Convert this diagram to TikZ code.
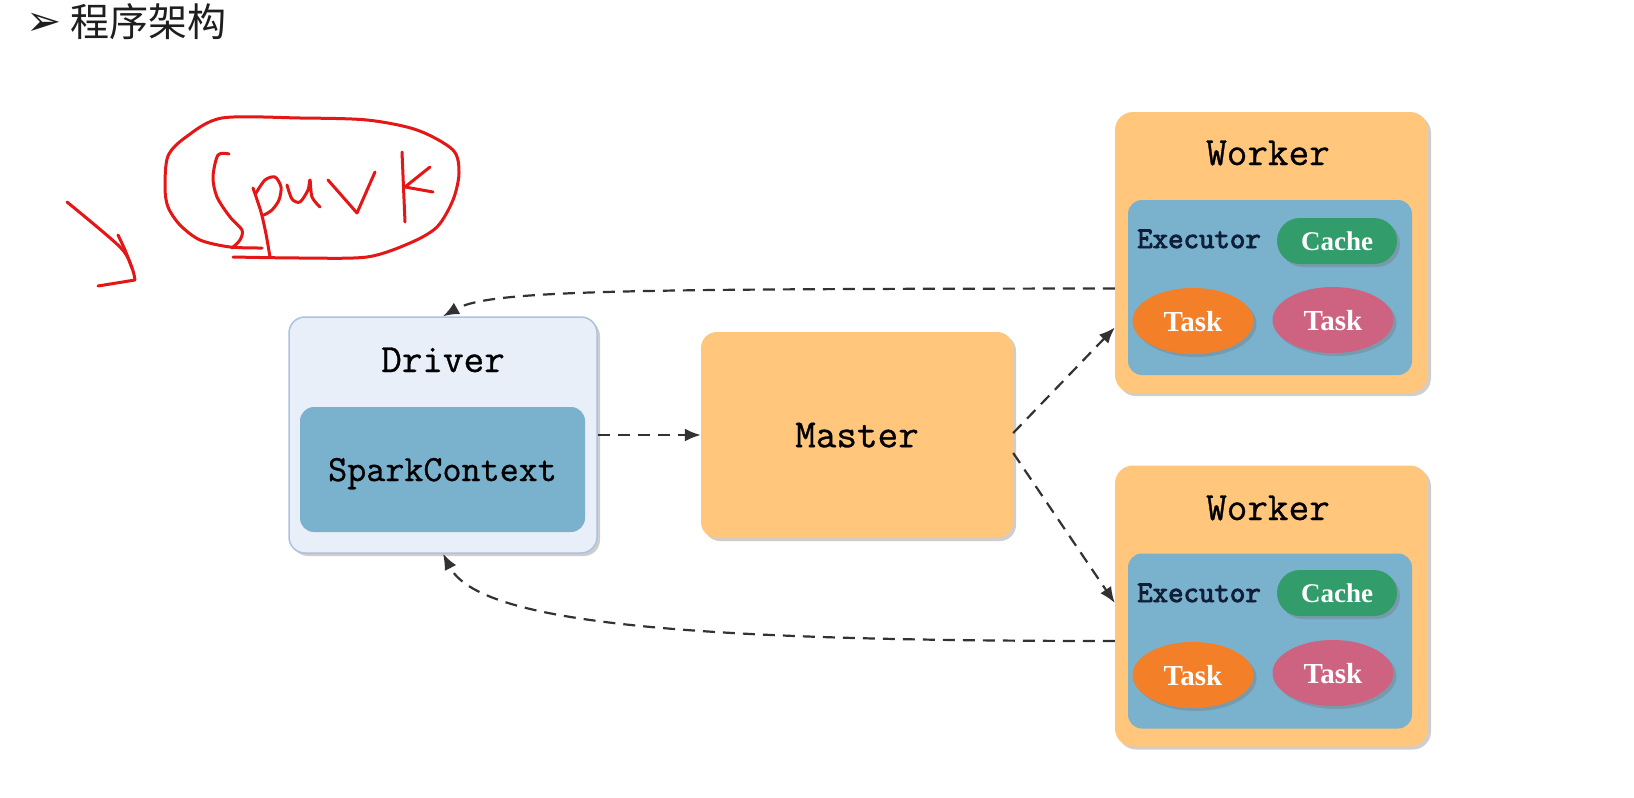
\documentclass[tikz,border=0pt]{standalone}
\usepackage{fontspec}
\usetikzlibrary{arrows.meta,shapes.geometric,shadows,calc}
\newfontfamily\cjkfont{Noto Sans CJK SC}
\newfontfamily\symfont{DejaVu Sans}
\newfontfamily\labelfont{Liberation Serif}
\newfontfamily\monofont{Latin Modern Mono}[FakeBold=0.8]
\newfontfamily\execfont{Latin Modern Mono}[FakeBold=3]
\definecolor{workerorange}{RGB}{255,198,124}
\definecolor{execblue}{RGB}{122,177,205}
\definecolor{driverfill}{RGB}{232,239,249}
\definecolor{driverline}{RGB}{172,194,222}
\definecolor{cachegreen}{RGB}{50,156,106}
\definecolor{taskorange}{RGB}{243,128,40}
\definecolor{taskpink}{RGB}{206,99,129}
\definecolor{penred}{RGB}{228,22,22}
\definecolor{linkgray}{RGB}{50,50,50}
\definecolor{titlegray}{RGB}{30,30,30}
\definecolor{execnavy}{RGB}{16,30,56}
\tikzset{
  boxshadow/.style={drop shadow={shadow xshift=3pt,shadow yshift=-3pt,opacity=0.35,fill=black!55}},
  workerbox/.style={rectangle,rounded corners=18pt,fill=workerorange,minimum width=313pt,minimum height=281pt,boxshadow},
  masterbox/.style={rectangle,rounded corners=16pt,fill=workerorange,minimum width=312pt,minimum height=206pt,boxshadow,font=\monofont\bfseries\fontsize{40}{40}\selectfont,text depth=0pt},
  driverbox/.style={rectangle,rounded corners=16pt,fill=driverfill,draw=driverline,line width=1.5pt,minimum width=308pt,minimum height=236pt,boxshadow},
  scbox/.style={rectangle,rounded corners=14pt,fill=execblue,minimum width=285pt,minimum height=125pt,font=\monofont\bfseries\fontsize{37}{37}\selectfont,text depth=0pt},
  execbox/.style={rectangle,rounded corners=14pt,fill=execblue,minimum width=284pt,minimum height=175pt},
  boxlabel/.style={inner sep=0pt,font=\monofont\bfseries\fontsize{40}{40}\selectfont},
  execlabel/.style={inner sep=0pt,text=execnavy,font=\execfont\bfseries\fontsize{30}{30}\selectfont},
  cachebox/.style={rectangle,rounded corners=23pt,fill=cachegreen,minimum width=120pt,minimum height=46pt,inner sep=0pt,text=white,text depth=0pt,font=\labelfont\bfseries\fontsize{27}{27}\selectfont,boxshadow},
  taskbox/.style={ellipse,minimum width=121pt,minimum height=66pt,inner sep=0pt,text=white,text depth=0pt,font=\labelfont\bfseries\fontsize{29}{29}\selectfont,boxshadow},
  link/.style={draw=linkgray,line width=2.2pt,dash pattern=on 12pt off 8pt,-{Latex[length=16pt,width=13pt]}},
  redpen/.style={draw=penred,line width=3pt,line cap=round,line join=round},
}
\begin{document}
\begin{tikzpicture}[x=1pt,y=1pt,yscale=-1]
    \fill[white] (0,0) rectangle (1634,798);
    \useasboundingbox (0,0) rectangle (1634,798);

    % Title
    \node[inner sep=0pt,text=titlegray,font=\symfont\fontsize{42}{42}\selectfont] (bullet) at (44,24) {➢};
    \node[anchor=west,inner sep=0pt,text=titlegray,font=\cjkfont\fontsize{39}{39}\selectfont] (title) at (70,22) {程序架构};

    % Hand-written note
    \draw[redpen] plot[smooth] coordinates {(233,257) (300,258) (367,257) (410,243) (437,227) (453,200) (459,173) (453,150) (417,130) (367,120) (300,118) (222,118) (186,137) (168,156) (165,187) (168,207) (180,225) (200,240) (230,247) (262,248)};
    \draw[redpen] plot[smooth] coordinates {(229,154) (218,155) (213,177) (217,197) (230,217) (242,230) (240,240) (232,248)};
    \draw[redpen] plot[smooth] coordinates {(253,188) (261,212) (266,234) (270,257)};
    \draw[redpen] plot[smooth] coordinates {(256,193) (265,180) (275,177) (281,187) (279,200) (272,210) (264,215)};
    \draw[redpen] plot[smooth] coordinates {(287,185) (292,199) (300,202) (308,190) (310,180) (312,197) (320,207)};
    \draw[redpen] (328,180) -- (357,213) -- (375,172);
    \draw[redpen] (402,152) -- (405,222);
    \draw[redpen] (430,167) -- (405,187) -- (433,192);
    \draw[redpen] plot[smooth] coordinates {(67,202) (120,247) (132,268) (135,280)} -- (98,286);
    \draw[redpen] plot[smooth] coordinates {(118,235) (125,250) (132,268)};

    % Driver
    \node[driverbox] (driver) at (443,435) {};
    \node[scbox] (sc) at (442.5,469.5) {SparkContext};
    \node[boxlabel,anchor=base] (driverlabel) at (443,372) {Driver};

    % Master
    \node[masterbox] (master) at (857,435) {Master};

    % Worker 1
    \node[workerbox] (worker1) at (1271.5,252.5) {};
    \node[execbox] (exec1) at (1270,287.5) {};
    \node[boxlabel,anchor=base] (worker1label) at (1268,165) {Worker};
    \node[execlabel,anchor=base west] (exec1label) at (1137,248) {Executor};
    \node[cachebox] (cache1) at (1337,241) {Cache};
    \node[taskbox,fill=taskorange] (task1a) at (1193,321) {Task};
    \node[taskbox,fill=taskpink] (task1b) at (1333,320) {Task};

    % Worker 2
    \node[workerbox] (worker2) at (1271.5,606) {};
    \node[execbox] (exec2) at (1270,641) {};
    \node[boxlabel,anchor=base] (worker2label) at (1268,520) {Worker};
    \node[execlabel,anchor=base west] (exec2label) at (1137,602) {Executor};
    \node[cachebox] (cache2) at (1337,593) {Cache};
    \node[taskbox,fill=taskorange] (task2a) at (1193,675) {Task};
    \node[taskbox,fill=taskpink] (task2b) at (1333,673) {Task};

    % Links
    \draw[link] (driver.east) -- (master.west);
    \draw[link] ($(master.east)+(0,-2)$) -- ($(worker1.west)+(0,75)$);
    \draw[link] ($(master.east)+(0,18)$) -- ($(worker2.west)+(0,-3)$);
    \draw[link] ($(worker1.west)+(0,36)$) .. controls (620,289) and (490,290) .. (driver.north);
    \draw[link] ($(worker2.west)+(0,35)$) .. controls (700,641) and (480,625) .. (driver.south);
\end{tikzpicture}
\end{document}
